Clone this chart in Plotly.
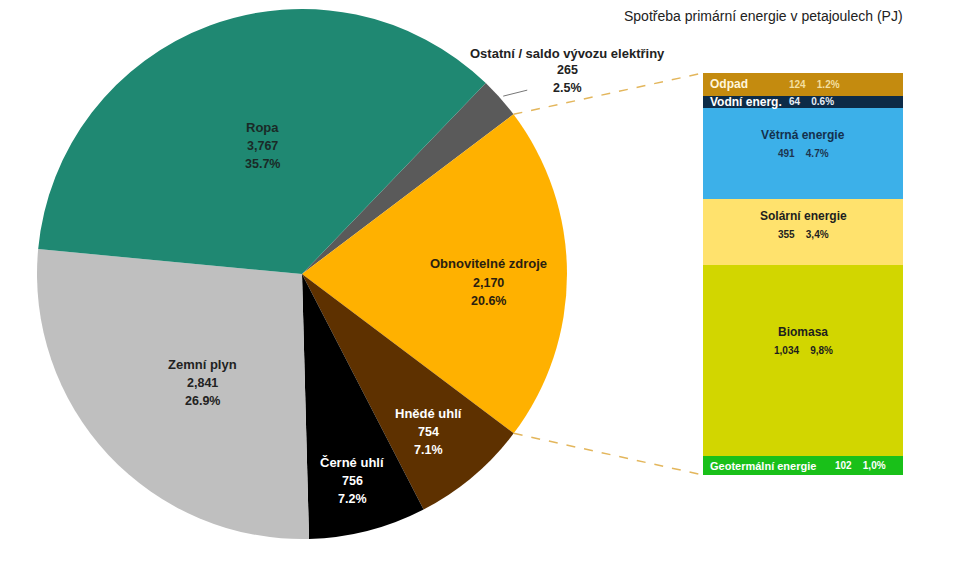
"""Primary energy consumption: pie of sources plus a stacked bar breaking down renewables."""

import math

import plotly.graph_objects as go

# ---- data ----
pie_labels = [
    "Ostatní / saldo vývozu elektřiny",
    "Obnovitelné zdroje",
    "Hnědé uhlí",
    "Černé uhlí",
    "Zemní plyn",
    "Ropa",
]
pie_values = [265, 2170, 754, 756, 2841, 3767]

bar_labels = [
    "Geotermální energie",
    "Biomasa",
    "Solární energie",
    "Větrná energie",
    "Vodní energ.",
    "Odpad",
]
bar_values = [102, 1034, 355, 491, 64, 124]
bar_dec_sep = [",", ",", ",", ".", ".", "."]

title_text = "Spotřeba primární energie v petajoulech (PJ)"

# ---- styling ----
pie_colors = ["#5a5a5a", "#ffb100", "#5e3100", "#000000", "#bfbfbf", "#1f8872"]
pie_text_colors = ["#222222", "#2a2010", "#ffffff", "#ffffff", "#222222", "#1a2a27"]
# in-slice label placement: fraction of radius and angular nudge from the slice middle (deg)
pie_label_r = [None, 0.703, 0.763, 0.804, 0.556, 0.506]
pie_label_da = [0, 2.8, 1.6, 0.8, -4.7, 3.0]

bar_colors = ["#19c019", "#d2d600", "#ffe26d", "#3cb0e9", "#0d2b47", "#c48b0f"]
bar_name_colors = ["#ffffff", "#1e1e1e", "#1e1e1e", "#14304d", "#ffffff", "#fff6dc"]
bar_num_colors = ["#ffffff", "#1e1e1e", "#1e1e1e", "#1d3550", "#e6edf5", "#f3dfa0"]
bar_name_sizes = [11, 12, 12, 12, 12, 12]
# inline rows: name left, numbers to the right (px offset from bar left); others centered
bar_inline_num_x = [130, None, None, None, 84, 84]

W, H = 979, 565
OFF = 8                            # page body margin around the plot div
CX, CY, R = 302, 274, 265          # pie centre / radius in page px
ROT = 43.9                         # start angle of first slice (deg, clockwise from 12)
BAR_L, BAR_R, BAR_T, BAR_B = 703, 903, 73, 475
FONT = "Liberation Sans, Arial, sans-serif"


def px(x):
    return (x - OFF) / W


def py(y):
    return 1 - (y - OFF) / H


def note(x, y, text, size, color, xanchor="center", yshift=0):
    return dict(
        x=px(x), y=py(y), xref="paper", yref="paper",
        xanchor=xanchor, yanchor="middle", yshift=yshift,
        text=text, showarrow=False,
        font=dict(family=FONT, size=size, color=color),
    )


fig = go.Figure()

fig.add_trace(
    go.Pie(
        labels=pie_labels,
        values=pie_values,
        marker=dict(colors=pie_colors, line=dict(width=0)),
        sort=False,
        direction="clockwise",
        rotation=ROT,
        textinfo="none",
        hoverinfo="label+value+percent",
        domain=dict(x=[px(CX - R), px(CX + R)], y=[py(CY + R), py(CY - R)]),
        showlegend=False,
    )
)

for lab, val, col in zip(bar_labels, bar_values, bar_colors):
    fig.add_trace(
        go.Bar(
            x=[0],
            y=[val],
            name=lab,
            width=1,
            marker=dict(color=col, line=dict(width=0)),
            showlegend=False,
            hoverinfo="name+y",
        )
    )

annotations = []
shapes = []

# ---- pie labels ----
total = sum(pie_values)
cum = 0
starts = []
for i, v in enumerate(pie_values):
    start = ROT + 360 * cum / total
    starts.append(start)
    mid = math.radians(start + 180 * v / total + pie_label_da[i])
    cum += v
    pct = f"{100 * v / total:.1f}%"
    if pie_label_r[i] is None:
        # outside label with a short leader
        ex, ey = CX + R * math.sin(mid), CY - R * math.cos(mid)
        shapes.append(dict(type="line", xref="paper", yref="paper",
                           x0=px(ex + 3), y0=py(ey - 2), x1=px(ex + 27), y1=py(ey - 8),
                           line=dict(color="#777777", width=1)))
        lx, ly = ex + 67, ey - 28
        shifts = (17, 0, -18)
    else:
        f = pie_label_r[i]
        lx, ly = CX + f * R * math.sin(mid), CY - f * R * math.cos(mid)
        shifts = (19, 0, -18)
    col = pie_text_colors[i]
    annotations.append(note(lx, ly, f"<b>{pie_labels[i]}</b>", 13, col, yshift=shifts[0]))
    annotations.append(note(lx, ly, f"<b>{v:,}</b>", 12.5, col, yshift=shifts[1]))
    annotations.append(note(lx, ly, f"<b>{pct}</b>", 12.5, col, yshift=shifts[2]))

# ---- bar labels ----
bar_total = sum(bar_values)
gap = "\u00a0" * 4
base = 0
for i, v in enumerate(bar_values):
    pct = f"{100 * v / total:.1f}".replace(".", bar_dec_sep[i]) + "%"
    nums = f"<b>{v:,}{gap}{pct}</b>"
    name = f"<b>{bar_labels[i]}</b>"
    if bar_inline_num_x[i] is not None:
        ypx = BAR_B - (BAR_B - BAR_T) * (base + 0.5 * v) / bar_total
        annotations.append(note(BAR_L + 5, ypx, name, bar_name_sizes[i],
                                bar_name_colors[i], xanchor="left"))
        annotations.append(note(BAR_L + bar_inline_num_x[i], ypx, nums, 10,
                                bar_num_colors[i], xanchor="left"))
    else:
        ypx = BAR_B - (BAR_B - BAR_T) * (base + 0.6 * v) / bar_total
        xc = (BAR_L + BAR_R) / 2
        annotations.append(note(xc, ypx, name, bar_name_sizes[i], bar_name_colors[i], yshift=9))
        annotations.append(note(xc, ypx, nums, 10, bar_num_colors[i], yshift=-9))
    base += v

# ---- connector lines from the renewables slice to the bar ----
ren = pie_labels.index("Obnovitelné zdroje")
a0 = math.radians(starts[ren])
a1 = math.radians(starts[ren] + 360 * pie_values[ren] / total)
for ang, by in ((a0, BAR_T), (a1, BAR_B)):
    shapes.append(dict(
        type="line", xref="paper", yref="paper",
        x0=px(CX + R * math.sin(ang)), y0=py(CY - R * math.cos(ang)),
        x1=px(BAR_L), y1=py(by),
        line=dict(color="#e3b65c", width=1.5, dash="dash"),
    ))

annotations.append(note(905, 16, title_text, 14, "#222222", xanchor="right"))

fig.update_layout(
    width=W,
    height=H,
    margin=dict(l=0, r=0, t=0, b=0),
    paper_bgcolor="white",
    plot_bgcolor="rgba(0,0,0,0)",
    barmode="stack",
    bargap=0,
    xaxis=dict(domain=[px(BAR_L), px(BAR_R)], range=[-0.5, 0.5], visible=False, fixedrange=True),
    yaxis=dict(domain=[py(BAR_B), py(BAR_T)], range=[0, bar_total], visible=False, fixedrange=True),
    annotations=annotations,
    shapes=shapes,
)

fig.write_html("out.html")
